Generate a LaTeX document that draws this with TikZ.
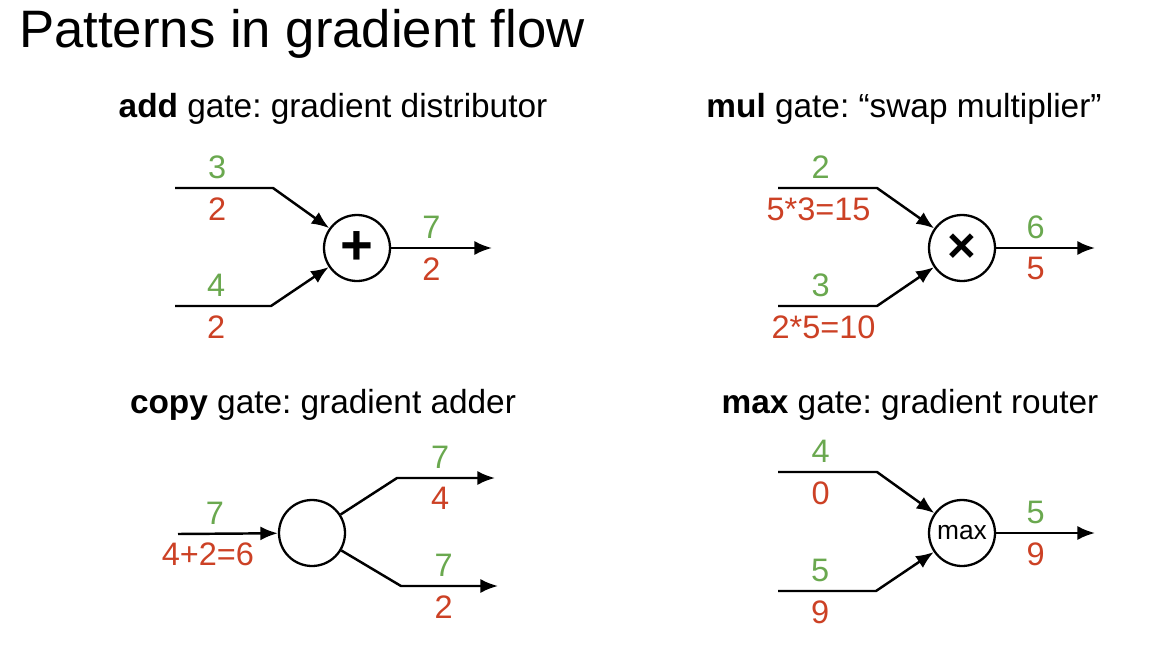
\documentclass[tikz,border=0pt]{standalone}
\usepackage{fontspec}
\setmainfont{Liberation Sans}
\frenchspacing
\usetikzlibrary{arrows.meta}
\definecolor{gradgreen}{HTML}{6AA84F}
\definecolor{gradred}{HTML}{CC4125}
\tikzset{
  gate/.style={draw,circle,line width=1.3pt,minimum size=1.32cm,inner sep=0pt},
  fwd/.style={above,text=gradgreen,font=\fontsize{18.5}{22}\selectfont,inner sep=4.6pt},
  bwd/.style={below,text=gradred,font=\fontsize{18.5}{22}\selectfont,inner sep=4.6pt},
  heading/.style={anchor=base,font=\fontsize{19}{23}\selectfont},
}
\begin{document}
\begin{tikzpicture}[x=0.02cm,y=-0.02cm,>={Latex[length=10pt,width=8pt]},line width=1.4pt]
\useasboundingbox (0,0) rectangle (1166,652);
\node[anchor=base west,inner sep=0pt,font=\fontsize{30}{36}\selectfont] (title) at (18,48) {Patterns in gradient flow};

% add gate
\node[heading] (addh) at (333,117) {\textbf{add} gate: gradient distributor};
\node[gate,font=\fontsize{32}{34}\selectfont\bfseries] (add) at (357,248) {+};
\coordinate (a1in) at (175,188);
\coordinate (a1k) at (273,188);
\coordinate (a2in) at (175,306);
\coordinate (a2k) at (271,306);
\coordinate (aout) at (492,248);
\draw[->] (a1in) -- node[fwd,pos=0.43]{3} node[bwd,pos=0.43]{2} (a1k) -- (add);
\draw[->] (a2in) -- node[fwd,pos=0.43]{4} node[bwd,pos=0.43]{2} (a2k) -- (add);
\draw[->] (add) -- node[fwd,pos=0.4]{7} node[bwd,pos=0.4]{2} (aout);

% mul gate
\node[heading] (mulh) at (904,117) {\textbf{mul} gate: “swap multiplier”};
\node[gate,font=\fontsize{28}{30}\selectfont\bfseries] (mul) at (962,248) {×};
\coordinate (m1in) at (778,188);
\coordinate (m1k) at (877,188);
\coordinate (m2in) at (778,306);
\coordinate (m2k) at (877,306);
\coordinate (mout) at (1095,248);
\draw[->] (m1in) -- node[fwd,pos=0.43]{2} node[bwd,pos=0.41]{5*3=15} (m1k) -- (mul);
\draw[->] (m2in) -- node[fwd,pos=0.43]{3} node[bwd,pos=0.46]{2*5=10} (m2k) -- (mul);
\draw[->] (mul) -- node[fwd,pos=0.4]{6} node[bwd,pos=0.4]{5} (mout);

% copy gate
\node[heading] (copyh) at (323,413) {\textbf{copy} gate: gradient adder};
\node[gate] (copy) at (312,533) {};
\coordinate (cin) at (178,534);
\coordinate (c1k) at (397,478);
\coordinate (c1out) at (495,478);
\coordinate (c2k) at (401,586);
\coordinate (c2out) at (498,586);
\draw[->] (cin) -- node[fwd,pos=0.37]{7} node[bwd,pos=0.3]{4+2=6} (copy);
\draw[->] (copy) -- (c1k) -- node[fwd,pos=0.44]{7} node[bwd,pos=0.44]{4} (c1out);
\draw[->] (copy) -- (c2k) -- node[fwd,pos=0.44]{7} node[bwd,pos=0.44]{2} (c2out);

% max gate
\node[heading] (maxh) at (910,413) {\textbf{max} gate: gradient router};
\node[gate,font=\fontsize{15}{17}\selectfont] (max) at (962,533) {max};
\coordinate (x1in) at (778,472);
\coordinate (x1k) at (877,472);
\coordinate (x2in) at (778,591);
\coordinate (x2k) at (876,591);
\coordinate (xout) at (1095,533);
\draw[->] (x1in) -- node[fwd,pos=0.43]{4} node[bwd,pos=0.43]{0} (x1k) -- (max);
\draw[->] (x2in) -- node[fwd,pos=0.43]{5} node[bwd,pos=0.43]{9} (x2k) -- (max);
\draw[->] (max) -- node[fwd,pos=0.4]{5} node[bwd,pos=0.4]{9} (xout);
\end{tikzpicture}
\end{document}
